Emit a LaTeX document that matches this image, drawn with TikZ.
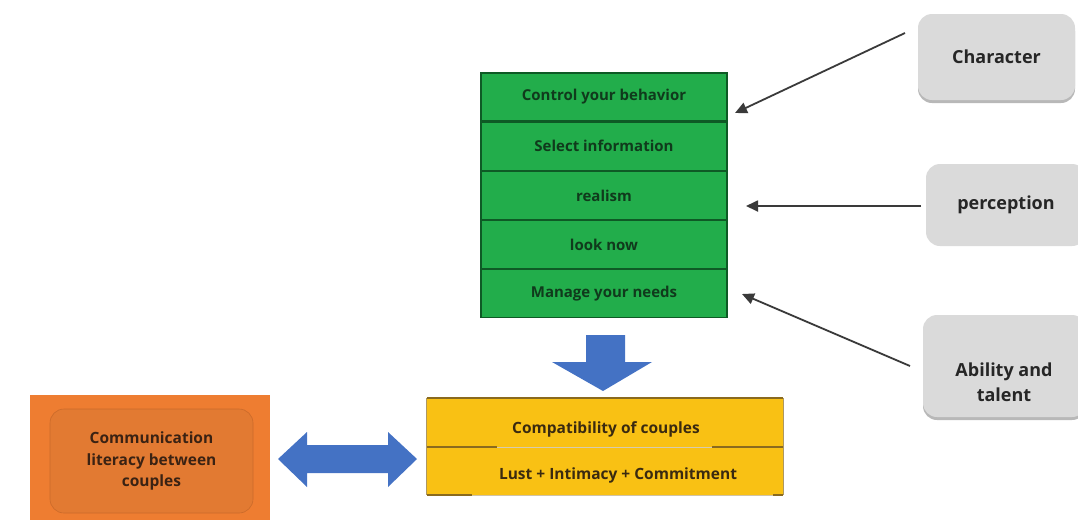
\documentclass[tikz,border=0pt]{standalone}
\usepackage{fontspec}
\setmainfont{Open Sans}
\usetikzlibrary{arrows.meta,positioning}
\definecolor{gfill}{HTML}{22AD4B}
\definecolor{gline}{HTML}{0E5A25}
\definecolor{gtext}{HTML}{103A1C}
\definecolor{gray1}{HTML}{DADADA}
\definecolor{gray2}{HTML}{B8B8B8}
\definecolor{ofill}{HTML}{EE7D31}
\definecolor{oinner}{HTML}{E27A32}
\definecolor{otext}{HTML}{3A2213}
\definecolor{yfill}{HTML}{F9C114}
\definecolor{yline}{HTML}{8A6A1E}
\definecolor{ytext}{HTML}{3A2A10}
\definecolor{bluea}{HTML}{4472C4}
\definecolor{arr}{HTML}{3A3A3A}
\tikzset{
  greenrow/.style={draw=gline, line width=1.2pt, fill=gfill, minimum width=246pt, minimum height=48pt, inner sep=0pt, text=gtext, font=\bfseries\fontsize{15}{18}\selectfont},
  graybox/.style={rounded corners=14pt, fill=gray1, inner sep=0pt, text=black!85, font=\bfseries\fontsize{18}{25}\selectfont, align=center},
  graytext/.style={text=black!85, font=\bfseries\fontsize{18}{25}\selectfont, align=center},
  conn/.style={draw=arr, line width=1.8pt, -{Triangle[length=12pt,width=11pt]}},
  bluearrow/.style={fill=bluea, draw=none},
}
\begin{document}
\begin{tikzpicture}[x=1pt,y=-1pt]
\useasboundingbox (0,0) rectangle (1078,523);
% green stack
\node[greenrow] (r1) at (604,97) {Control your behavior};
\node[greenrow, below=0pt of r1] (r2) {Select information};
\node[greenrow, below=0pt of r2] (r3) {realism};
\node[greenrow, below=0pt of r3] (r4) {look now};
\node[greenrow, below=0pt of r4] (r5) {Manage your needs};
% gray boxes
\fill[gray2, rounded corners=14pt] (918,17) rectangle (1075,103);
\node[graybox, minimum width=157pt, minimum height=86pt] (char) at (996.5,57) {Character};
\node[graybox, minimum width=160pt, minimum height=82pt] (perc) at (1006,205) {perception};
\fill[gray2, rounded corners=14pt] (923,319) rectangle (1086,420);
\node[graybox, minimum width=163pt, minimum height=102pt] (abil) at (1004.5,366) {};
\node[graytext] (abiltext) at (1004,382) {Ability and\\talent};
% connector free ends
\coordinate (c1) at (905,33);
\coordinate (t1) at (735,113);
\coordinate (c2) at (921,206);
\coordinate (t2) at (746,206);
\coordinate (c3) at (910,366);
\coordinate (t3) at (742,294);
\draw[conn] (c1) -- (t1);
\draw[conn] (c2) -- (t2);
\draw[conn] (c3) -- (t3);
% blue down arrow
\fill[bluearrow] (586,335) -- (625,335) -- (625,362) -- (652,362) -- (603,391) -- (552,362) -- (586,362) -- cycle;
% yellow box
\node[fill=yfill, minimum width=356pt, minimum height=97pt, inner sep=0pt] (yel) at (605,446.5) {};
\draw[yline, line width=1.6pt] (yel.north west) -- (yel.north east);
\draw[yline!70, line width=1pt] (yel.north west) -- (yel.south west);
\draw[yline!70, line width=1pt] (yel.north east) -- (yel.south east);
\draw[yline, line width=1.6pt] (yel.south west) -- ++(45,0);
\draw[yline, line width=1.6pt] (yel.south east) -- ++(-10,0);
\draw[yline!40, line width=0.8pt] ([xshift=45pt]yel.south west) -- ([xshift=-10pt]yel.south east);
\draw[yline, line width=1.6pt] (427,447) -- (497,447);
\draw[yline, line width=1.6pt] (712,447) -- (783,447);
\draw[yline!35, line width=0.8pt] (497,447) -- (712,447);
\node[text=ytext, font=\bfseries\fontsize{15.5}{18}\selectfont] (comp) at (606,429) {Compatibility of couples};
\node[text=ytext, font=\bfseries\fontsize{15.5}{18}\selectfont] (lust) at (618,475) {Lust + Intimacy + Commitment};
% orange box
\node[fill=ofill, minimum width=240pt, minimum height=125pt, inner sep=0pt] (org) at (150,457.5) {};
\node[fill=oinner, draw=ofill!85!black, line width=0.6pt, rounded corners=14pt, minimum width=203pt, minimum height=104pt, inner sep=0pt, text=otext, font=\bfseries\fontsize{15.5}{21.5}\selectfont, align=center] (comm) at (151.5,461) {Communication\\literacy between\\couples};
% blue double arrow
\fill[bluearrow] (278,459) -- (307,432) -- (307,445) -- (388,445) -- (388,432) -- (417,459) -- (388,487) -- (388,473) -- (307,473) -- (307,487) -- cycle;
\end{tikzpicture}
\end{document}
